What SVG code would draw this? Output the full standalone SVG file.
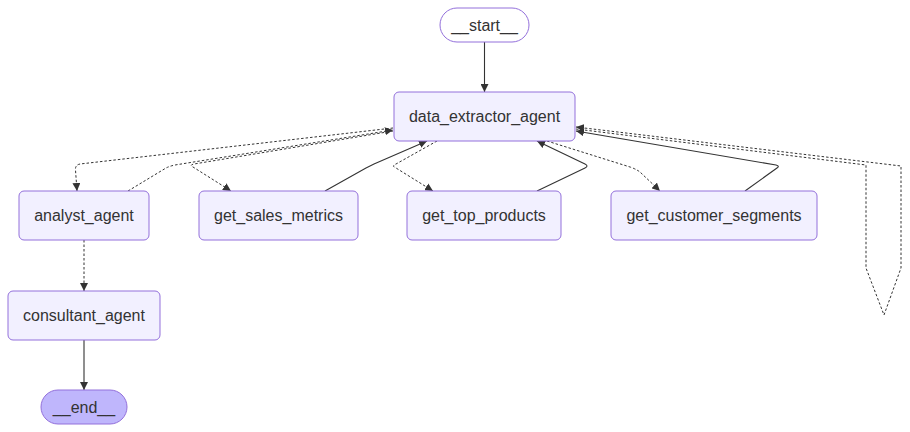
<svg xmlns="http://www.w3.org/2000/svg" width="910" height="432" viewBox="0 0 910 432">
<style>
.node rect{fill:#f2f0ff;stroke:#9370db;stroke-width:1}
.node text{font-family:"Liberation Sans",Arial,sans-serif;font-size:16px;fill:#333;text-anchor:middle}
.e{fill:none;stroke:#333;stroke-width:1.1;stroke-linejoin:round}
.d{stroke-dasharray:2.5 2;stroke-width:1}
</style>
<defs>
<marker id="arr" viewBox="0 0 10 10" refX="10" refY="5" markerWidth="8" markerHeight="8" markerUnits="userSpaceOnUse" orient="auto">
<path d="M0,0 L10,5 L0,10 z" fill="#333"/>
</marker>
</defs>
<rect width="910" height="432" fill="#fff"/>
<g id="connectors">
<path class="e" d="M484.5,42 L484.5,92" marker-end="url(#arr)"/>
<path class="e d" d="M393,128 L80,164 Q75,165 75.5,170 L77,191" marker-end="url(#arr)"/>
<path class="e d" d="M128,191 L166,168 Q170,166 175,165 L393,130" marker-end="url(#arr)"/>
<path class="e d" d="M393,131 L194,164 Q189,165 193,167 L231,191" marker-end="url(#arr)"/>
<path class="e" d="M325,191 L366,168 Q370,166 374,164 L427,141" marker-end="url(#arr)"/>
<path class="e d" d="M437,141 L396,164 Q391,166 396,168 L433,191" marker-end="url(#arr)"/>
<path class="e" d="M537,191 L585,168 Q589,166 585,164 L537,141" marker-end="url(#arr)"/>
<path class="e d" d="M547,141 L630,167 Q636,169 640,172 L660,191" marker-end="url(#arr)"/>
<path class="e" d="M745,191 L777,168 Q780,166 776,165 L576,131" marker-end="url(#arr)"/>
<path class="e d" d="M576,129 L866,165 L866,268 L884,315 L901,268 L901,166 L576,127" marker-end="url(#arr)"/>
<path class="e d" d="M84,240 L84,291" marker-end="url(#arr)"/>
<path class="e" d="M84,340 L84,390" marker-end="url(#arr)"/>
</g>
<g id="start" class="node"><rect x="440" y="8" width="89" height="34" rx="17" style="fill:#fff"/><text x="484.5" y="30.5">__start__</text></g>
<g id="data_extractor_agent" class="node"><rect x="394" y="92" width="181" height="49" rx="5"/><text x="484.5" y="122">data_extractor_agent</text></g>
<g id="analyst_agent" class="node"><rect x="19" y="191" width="130" height="49" rx="5"/><text x="84" y="221">analyst_agent</text></g>
<g id="get_sales_metrics" class="node"><rect x="199" y="191" width="159" height="49" rx="5"/><text x="278.5" y="221">get_sales_metrics</text></g>
<g id="get_top_products" class="node"><rect x="407" y="191" width="154" height="49" rx="5"/><text x="484" y="221">get_top_products</text></g>
<g id="get_customer_segments" class="node"><rect x="611" y="191" width="206" height="49" rx="5"/><text x="714" y="221">get_customer_segments</text></g>
<g id="consultant_agent" class="node"><rect x="8" y="291" width="152" height="49" rx="5"/><text x="84" y="321">consultant_agent</text></g>
<g id="end" class="node"><rect x="41" y="390" width="86" height="34" rx="17" style="fill:#bfb6fc"/><text x="84" y="412.5">__end__</text></g>
</svg>
